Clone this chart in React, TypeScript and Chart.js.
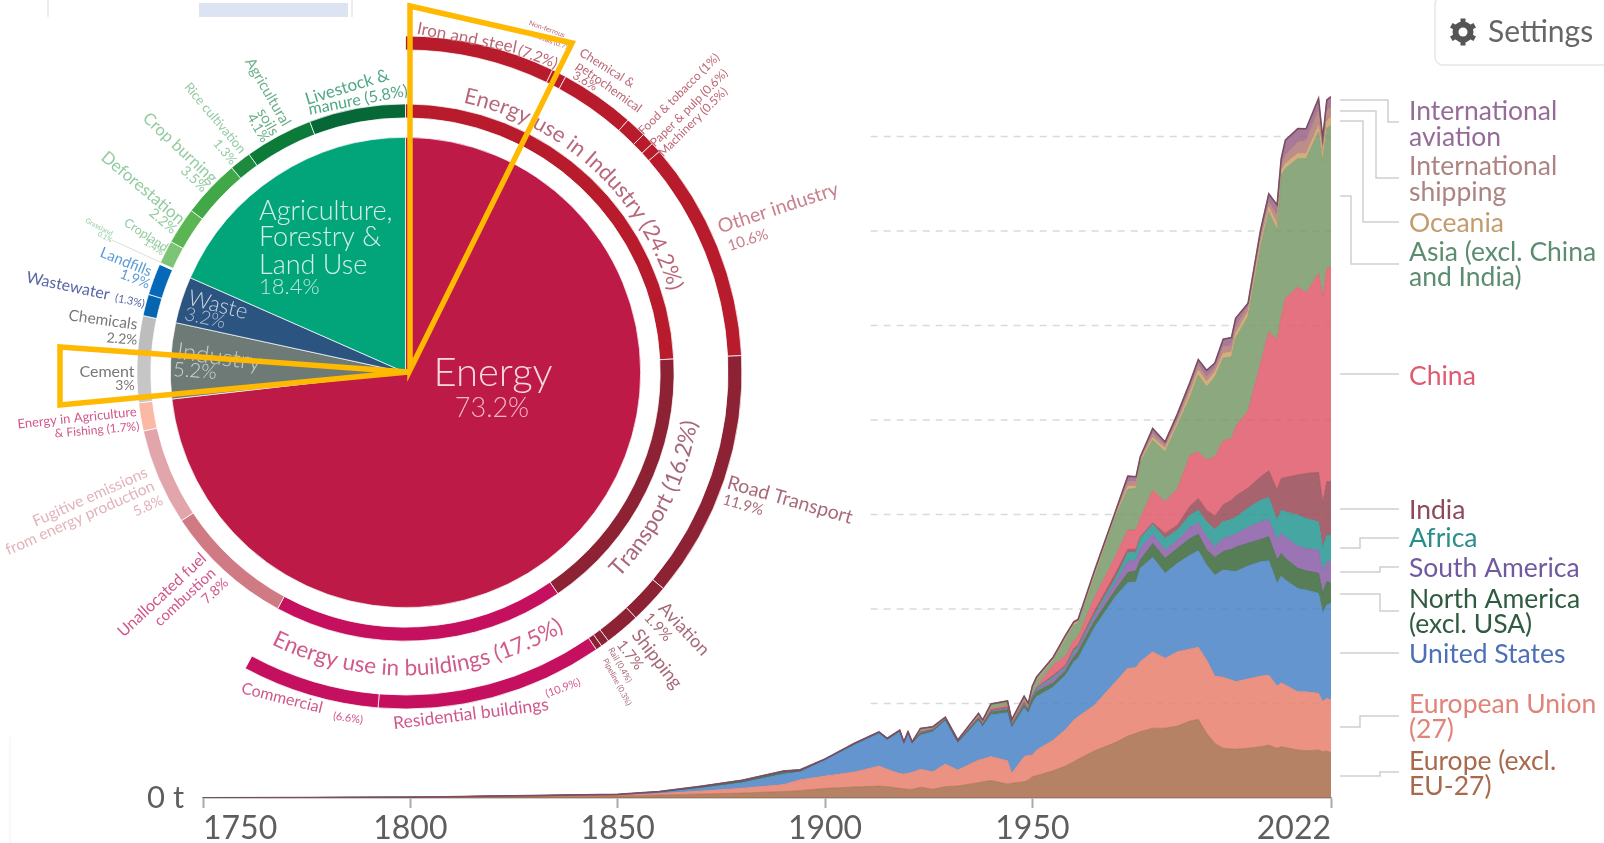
import React, { useEffect, useRef } from "react";
import { Chart, registerables } from "chart.js";

Chart.register(...registerables);

// ---------- Stacked area data: billions of tonnes of CO2 ----------
const years = [1750,1800,1850,1860,1870,1880,1890,1894,1900,1907,1913,1915,1918,1919,1920,1921,1923,1926,1929,1932,1937,1938,1940,1944,1945,1948,1949,1950,1951,1955,1958,1960,1961,1965,1970,1973,1975,1976,1979,1982,1985,1988,1990,1992,1994,1996,1998,1999,2002,2005,2007,2009,2010,2011,2014,2016,2019,2020,2021,2022];

const europeExclEU = [0.01,0.03,0.11,0.16,0.21,0.26,0.34,0.39,0.51,0.58,0.63,0.6,0.51,0.49,0.46,0.46,0.57,0.46,0.6,0.63,0.81,0.86,0.92,0.74,0.78,0.86,0.95,1.13,1.18,1.44,1.69,1.92,2.05,2.5,2.93,3.28,3.42,3.51,3.69,3.69,3.81,4.07,4.16,3.42,2.89,2.63,2.59,2.58,2.63,2.71,2.8,2.63,2.71,2.67,2.54,2.5,2.54,2.45,2.49,2.4];
const europeanUnion = [0,0.01,0.04,0.08,0.16,0.26,0.37,0.57,0.65,0.79,1.06,0.92,0.79,0.78,0.85,0.9,0.95,0.93,1.2,0.85,1.2,1.2,1.27,1.23,0.53,1.32,1.32,1.15,1.36,1.62,1.94,2.21,2.25,2.42,3.21,3.58,3.49,3.7,4.05,3.7,3.93,3.81,3.81,3.88,3.56,3.76,3.65,3.58,3.67,3.74,3.7,3.3,3.39,3.31,3.08,3.12,3,2.65,2.79,2.79];
const unitedStates = [0,0,0.02,0.05,0.15,0.29,0.56,0.42,0.85,1.43,1.73,1.55,2.2,1.62,2.12,1.53,1.81,2.12,2.29,1.43,2.08,1.71,2.21,2.54,2.4,2.58,2.21,2.75,2.82,2.8,2.87,3.08,3.09,4.11,4.51,4.53,4.53,4.94,4.99,4.5,4.68,4.97,5.11,5.03,5.34,5.68,5.77,5.82,5.98,6.05,6.05,5.43,5.64,5.55,5.47,5.38,5.29,4.68,4.94,5.12];
const northAmerica = [0,0,0.01,0.02,0.05,0.06,0.07,0.05,0.02,0.04,0.03,0.04,0.04,0.03,0.03,0.03,0.08,0.06,0.04,0.04,0.09,0.08,0.13,0.14,0.09,0.14,0.12,0.2,0.26,0.23,0.23,0.26,0.35,0.33,0.35,0.53,0.58,0.44,0.74,0.79,0.79,0.88,0.88,0.79,0.94,0.97,1.15,1.29,1.2,1.18,1.27,1.23,1.2,1.15,1.06,1.02,1.06,1.06,1.23,1.06];
const southAmerica = [0,0,0,0,0.01,0.01,0.01,0.01,0.01,0.01,0.01,0.01,0.01,0.01,0.01,0.01,0.02,0.02,0.01,0.01,0.02,0.02,0.03,0.04,0.03,0.04,0.03,0.05,0.09,0.23,0.13,0.18,0.13,0.23,0.39,0.58,0.57,0.62,0.49,0.44,0.44,0.61,0.6,0.7,0.56,0.71,0.7,0.7,0.85,0.93,0.92,1.06,1.09,1.11,1.18,1.18,1.23,1.14,1.06,1.14];
const africa = [0,0,0,0,0,0.01,0.01,0.01,0,0.01,0.01,0.01,0.01,0.01,0.01,0.01,0.02,0.02,0.01,0.01,0.02,0.02,0.03,0.04,0.03,0.04,0.03,0.05,0.09,0.08,0.08,0.14,0.11,0.14,0.23,0.48,0.44,0.53,0.53,0.62,0.53,0.62,0.67,0.79,0.92,0.88,0.88,0.88,1.01,1.15,1.16,1.06,1.2,1.35,1.64,1.59,1.5,1.24,1.41,1.41];
const india = [0,0,0,0.01,0.01,0.02,0.03,0.02,0.01,0.01,0.01,0.01,0.01,0.01,0.01,0.01,0.04,0.03,0.03,0.02,0.05,0.04,0.07,0.08,0.05,0.08,0.06,0.06,0.03,0.09,0.09,0.13,0.12,0.17,0.26,0.18,0.13,0.08,0.07,0.26,0.26,0.48,0.62,0.62,0.7,0.88,1.02,1.13,1.06,1.23,1.41,1.59,1.68,1.82,2.12,2.38,2.61,2.38,2.82,2.82];
const china = [0,0,0,0,0.01,0.01,0.01,0.01,0,0.01,0.01,0.01,0.01,0.01,0.01,0.01,0.04,0.03,0.02,0.02,0.05,0.04,0.07,0.08,0.05,0.08,0.06,0.06,0.05,0.53,0.48,0.44,0.42,0.74,0.88,1.02,1.02,0.97,1.73,1.67,1.94,2.7,2.47,2.65,3.14,3.4,3.26,3.67,4.09,6,7.35,7.94,8.55,9.47,9.96,9.55,10.53,10.93,11.29,11.34];
const asiaExclChinaIndia = [0,0,0,0.01,0.01,0.01,0.02,0.01,0.01,0.01,0.01,0.01,0.01,0.01,0.01,0.01,0.12,0.08,0.06,0.05,0.13,0.12,0.2,0.21,0.14,0.21,0.18,0.37,0.35,0.26,0.88,0.79,0.72,1.06,2.12,2.15,2.21,2.99,2.65,2.65,3.35,3.07,4.06,3.88,4.23,4.36,4.32,4.68,4.99,6.17,6.35,5.82,7.5,6.88,6.79,7.11,7.49,7.14,7.41,7.53];
const oceania = [0,0,0.01,0.01,0.01,0.01,0.01,0,0,0,0,0,0,0,0,0,0.02,0.01,0.01,0.01,0.02,0.02,0.03,0.03,0.02,0.03,0.03,0.06,0.04,0.05,0.07,0.06,0.07,0.12,0.09,0.17,0.12,0.09,0.14,0.18,0.17,0.26,0.26,0.26,0.26,0.26,0.26,0.26,0.26,0.26,0.26,0.35,0.26,0.26,0.26,0.26,0.35,0.44,0.35,0.44];
const internationalShipping = [0,0,0,0,0,0,0,0,0,0,0,0,0,0,0,0,0.01,0.01,0.01,0,0.01,0.01,0.02,0.01,0.01,0.01,0.02,0.04,0.05,0.05,0.08,0.06,0.07,0.12,0.09,0.23,0.23,0.09,0.21,0.17,0.18,0.26,0.26,0.26,0.23,0.35,0.35,0.35,0.26,0.26,0.26,0.44,0.26,0.44,0.61,0.7,0.79,0.44,0.62,0.53];
const internationalAviation = [0,0,0,0,0,0,0,0,0,0,0,0,0,0,0,0,0,0,0,0,0,0,0,0,0,0,0,0.01,0.08,0.07,0.08,0.06,0.07,0.11,0.08,0.3,0.26,0.08,0.26,0.17,0.26,0.26,0.3,0.35,0.24,0.39,0.41,0.44,0.18,0.35,0.44,0.53,0.35,0.79,0.71,0.62,0.62,0.35,0.53,0.53];

const areaSeries = [
  { name: "Europe (excl. EU-27)", values: europeExclEU, color: "168,108,74" },
  { name: "European Union (27)", values: europeanUnion, color: "232,127,108" },
  { name: "United States", values: unitedStates, color: "73,131,198" },
  { name: "North America (excl. USA)", values: northAmerica, color: "59,103,59" },
  { name: "South America", values: southAmerica, color: "138,92,167" },
  { name: "Africa", values: africa, color: "38,152,146" },
  { name: "India", values: india, color: "153,73,85" },
  { name: "China", values: china, color: "223,89,106" },
  { name: "Asia (excl. China and India)", values: asiaExclChinaIndia, color: "120,153,103" },
  { name: "Oceania", values: oceania, color: "207,159,102" },
  { name: "International shipping", values: internationalShipping, color: "176,122,118" },
  { name: "International aviation", values: internationalAviation, color: "153,98,134" },
];

const xTicks = [1750, 1800, 1850, 1900, 1950, 2022];
const gridValues = [5, 10, 15, 20, 25, 30, 35];
const gridStartYear = 1911;

// ---------- Nested sector shares (percent of emissions) ----------
const sectorCategories = ["Energy", "Industry", "Waste", "Agriculture, Forestry & Land Use"];
const sectorValues = [73.2, 5.2, 3.2, 18.4];
const sectorColors = ["#BD1A48", "#6E7A75", "#2C5480", "#02A57A"];

const middleCategories = ["Energy use in Industry", "Transport", "Energy use in buildings", "Unallocated fuel combustion", "Fugitive emissions", "Energy in Agriculture & Fishing", "Cement", "Chemicals", "Wastewater", "Landfills", "Grassland", "Cropland", "Deforestation", "Crop burning", "Rice cultivation", "Agricultural soils", "Livestock & manure"];
const middleValues = [24.2, 16.2, 17.5, 7.8, 5.8, 1.7, 3, 2.2, 1.3, 1.9, 0.1, 1.4, 2.2, 3.5, 1.3, 4.1, 5.8];
const middleColors = ["#B81C2C", "#8C2234", "#C4105E", "#D07A83", "#E3A5AC", "#FBB9A5", "#C6C6C6", "#BDBDBD", "#0565B0", "#0568B8", "#FFFFFF", "#7CC576", "#5AB552", "#40A846", "#1E8A3E", "#0C7A38", "#066836"];

const outerCategories = ["Iron and steel", "Non-ferrous metals", "Chemical & petrochemical", "Food & tobacco", "Paper & pulp", "Machinery", "Other industry", "Road Transport", "Aviation", "Shipping", "Rail", "Pipeline", "Residential buildings", "Commercial", "(no third-level split)"];
const outerValues = [7.2, 0.7, 3.6, 1, 0.6, 0.5, 10.6, 11.9, 1.9, 1.7, 0.4, 0.3, 10.9, 6.6, 42.1];
const outerColors = ["#B81C2C", "#B81C2C", "#B81C2C", "#B81C2C", "#B81C2C", "#B81C2C", "#B81C2C", "#8C2234", "#8C2234", "#8C2234", "#8C2234", "#8C2234", "#C4105E", "#C4105E", "rgba(0,0,0,0)"];

// ---------- Layout ----------
const PIE = { cx: 405.5, cy: 372.5, outer: 337, ring3In: 323, ring2Out: 269, ring2In: 255, pie: 235.5 };
const FONT = "Lato";

type Lbl = [string, number, number, number, number, string, number?];
const LG = "#4FA884", G2 = "#6DB08A", G3 = "#93CBA0", BL = "#5A9BD6", PU = "#5866A6", GY = "#777", RD = "#BC6573", RL = "#C9808D", MG = "#D2568C", PK = "#E2B3BB", MR = "#A86A78";
const ringLabels: Lbl[] = [
  ["Livestock &", 347, 87, -17, 17, LG],
  ["manure (5.8%)", 358, 100, -11, 16, LG],
  ["Agricultural", 268, 92, 60, 15, G2],
  ["soils", 268, 122, 60, 15, G2],
  ["4.1%", 258, 128, 60, 14, G2],
  ["Rice cultivation", 215, 118, 50, 13, G3],
  ["1.3%", 225, 152, 50, 13, G3],
  ["Crop burning", 180, 148, 43, 16.5, G3],
  ["3.5%", 194, 179, 43, 14, G3],
  ["Deforestation", 143, 188, 40, 17, G3],
  ["2.2%", 163, 221, 40, 14, G3],
  ["Cropland", 146, 235, 33, 12.5, G3],
  ["1.4%", 154, 247, 33, 10, G3],
  ["Grassland", 99, 227, 28, 7, G3],
  ["0.1%", 105, 237, 28, 7, G3],
  ["Landfills", 126, 262, 22, 15, BL],
  ["1.9%", 135, 279, 22, 14, BL],
  ["Wastewater", 68, 286, 12, 16, PU],
  ["(1.3%)", 130, 301, 12, 11, PU],
  ["Chemicals", 103, 320, 8, 15.5, GY],
  ["2.2%", 122, 339, 5, 14, GY],
  ["Cement", 107, 372, 0, 16, GY],
  ["3%", 125, 385, 0, 14, GY],
  ["Energy in Agriculture", 77, 418, -6, 13, MG],
  ["& Fishing (1.7%)", 97, 430, -5, 12, MG],
  ["Fugitive emissions", 90, 497, -24, 15.5, PK],
  ["from energy production", 80, 518, -24, 15.5, PK],
  ["5.8%", 148, 506, -24, 14, PK],
  ["Unallocated fuel", 162, 595, -43, 16, MG],
  ["combustion", 185, 597, -43, 15, MG],
  ["7.8%", 215, 591, -43, 14, MG],
  ["Commercial", 282, 698, 14, 16, MG],
  ["(6.6%)", 348, 718, 8, 11, MG],
  ["Residential buildings", 471, 714, -7, 17.5, MG],
  ["(10.9%)", 563, 688, -20, 11, MG],
  ["Pipeline (0.3%)", 617, 682, 62, 8, MR],
  ["Rail (0.4%)", 620, 665, 60, 8.5, MR],
  ["Shipping", 657, 659, 52, 18.5, MR],
  ["1.7%", 630, 655, 52, 15, MR],
  ["Aviation", 684, 629, 47, 18, MR],
  ["1.9%", 658, 627, 47, 15, MR],
  ["Road Transport", 790, 500, 16, 19.5, MR],
  ["11.9%", 743, 505, 16, 15, MR],
  ["Other industry", 778, 208, -18, 19.5, RL],
  ["10.6%", 748, 240, -18, 15, RL],
  ["Machinery (0.5%)", 693, 122, -45, 12, RD],
  ["Paper & pulp (0.6%)", 689, 108, -45, 12, RD],
  ["Food & tobacco (1%)", 679, 94, -45, 12, RD],
  ["Chemical &", 607, 68, 32, 12.5, RD],
  ["petrochemical", 609, 87, 36, 12.5, RD],
  ["3.6%", 585, 81, 30, 12, RD],
  ["Non-ferrous", 547, 29, 20, 7, RD],
  ["metals (0.7%)", 553, 42, 20, 7, RD],
  ["Iron and steel", 467, 38, 11, 17, RD],
  ["(7.2%)", 538, 57, 20, 15, RD],
];
const pieLabels: Lbl[] = [
  ["Energy", 493, 373, 0, 40, "#F5D9E0", 300],
  ["73.2%", 492, 408, 0, 27, "#F0B8C8", 300],
  ["Waste", 218, 305, 14, 22, "#CBD5E0", 300],
  ["3.2%", 205, 318, 12, 19, "#B5C3D3", 300],
  ["Industry", 219, 357, 8, 24, "#C5CEC9", 300],
  ["5.2%", 195, 371, 4, 20, "#D0D8D3", 300],
];
const afoluLines = ["Agriculture,", "Forestry &", "Land Use"];
const afoluLineY = [211, 237, 265];

const arcLabels = [
  { text: "Energy use in Industry (24.2%)", r: 276, mid: 42.4, dir: 1, size: 22, color: "#B8687A" },
  { text: "Transport (16.2%)", r: 296, mid: 117, dir: -1, size: 22.5, color: "#A8677A" },
  { text: "Energy use in buildings (17.5%)", r: 303, mid: 177.4, dir: -1, size: 22.5, color: "#D05A8C" },
];

type Leader = { lines: string[]; ys: number[]; color: string; y0: number; xm?: number; y1?: number };
const leaders: Leader[] = [
  { lines: ["International", "aviation"], ys: [111.5, 137], color: "#956C97", y0: 100, xm: 1388, y1: 122 },
  { lines: ["International", "shipping"], ys: [166, 192], color: "#AD8482", y0: 111, xm: 1376, y1: 178 },
  { lines: ["Oceania"], ys: [223], color: "#C49B6C", y0: 121, xm: 1363, y1: 222 },
  { lines: ["Asia (excl. China", "and India)"], ys: [252, 277], color: "#5D8C70", y0: 196, xm: 1351, y1: 264 },
  { lines: ["China"], ys: [376.5], color: "#DE5A70", y0: 374 },
  { lines: ["India"], ys: [510.5], color: "#8C4A5A", y0: 509 },
  { lines: ["Africa"], ys: [538.5], color: "#2A8F8B", y0: 548, xm: 1360, y1: 538 },
  { lines: ["South America"], ys: [568], color: "#70599E", y0: 572, xm: 1380, y1: 567 },
  { lines: ["North America", "(excl. USA)"], ys: [599, 624], color: "#2F5B40", y0: 594, xm: 1380, y1: 611 },
  { lines: ["United States"], ys: [654.5], color: "#4C70B5", y0: 653 },
  { lines: ["European Union", "(27)"], ys: [704, 729], color: "#E08379", y0: 727, xm: 1360, y1: 716 },
  { lines: ["Europe (excl.", "EU-27)"], ys: [761, 786], color: "#A8694C", y0: 776, xm: 1380, y1: 772 },
];

function drawLabel(ctx: CanvasRenderingContext2D, l: Lbl, align: CanvasTextAlign = "center") {
  const [text, x, y, rot, size, color, weight] = l;
  ctx.save();
  ctx.translate(x, y);
  ctx.rotate((rot * Math.PI) / 180);
  ctx.font = `${weight ?? 400} ${size}px ${FONT}`;
  ctx.fillStyle = color;
  ctx.textAlign = align;
  ctx.textBaseline = "middle";
  ctx.fillText(text, 0, 0);
  ctx.restore();
}

function drawArcLabel(ctx: CanvasRenderingContext2D, a: (typeof arcLabels)[number]) {
  ctx.save();
  ctx.font = `400 ${a.size}px ${FONT}`;
  ctx.fillStyle = a.color;
  ctx.textAlign = "center";
  ctx.textBaseline = "alphabetic";
  const total = ctx.measureText(a.text).width;
  let angle = (a.mid * Math.PI) / 180 - (a.dir * total) / a.r / 2;
  for (const ch of a.text) {
    const w = ctx.measureText(ch).width;
    angle += (a.dir * w) / a.r / 2;
    ctx.save();
    ctx.translate(PIE.cx + a.r * Math.sin(angle), PIE.cy - a.r * Math.cos(angle));
    ctx.rotate(a.dir > 0 ? angle : angle - Math.PI);
    ctx.fillText(ch, 0, 0);
    ctx.restore();
    angle += (a.dir * w) / a.r / 2;
  }
  ctx.restore();
}

function drawGear(ctx: CanvasRenderingContext2D, cx: number, cy: number) {
  ctx.save();
  ctx.strokeStyle = "#555";
  ctx.fillStyle = "#555";
  ctx.lineWidth = 5;
  for (let i = 0; i < 6; i++) {
    const a = (i * Math.PI) / 3 + Math.PI / 6;
    ctx.beginPath();
    ctx.moveTo(cx, cy);
    ctx.lineTo(cx + 13.5 * Math.cos(a), cy + 13.5 * Math.sin(a));
    ctx.stroke();
  }
  ctx.beginPath();
  ctx.arc(cx, cy, 10.5, 0, Math.PI * 2);
  ctx.fill();
  ctx.fillStyle = "#fff";
  ctx.beginPath();
  ctx.arc(cx, cy, 4.5, 0, Math.PI * 2);
  ctx.fill();
  ctx.restore();
}

const areaGridPlugin = {
  id: "areaGrid",
  beforeDatasetsDraw(chart: any) {
    const { ctx, scales, chartArea } = chart;
    ctx.save();
    ctx.strokeStyle = "#d9d9d9";
    ctx.lineWidth = 1.5;
    ctx.setLineDash([7, 6]);
    for (const v of gridValues) {
      const y = scales.y.getPixelForValue(v);
      ctx.beginPath();
      ctx.moveTo(scales.x.getPixelForValue(gridStartYear), y);
      ctx.lineTo(chartArea.right, y);
      ctx.stroke();
    }
    ctx.restore();
  },
};

const decorPlugin = {
  id: "decor",
  afterDraw(chart: any) {
    const ctx: CanvasRenderingContext2D = chart.ctx;
    ctx.save();
    ringLabels.forEach((l) => drawLabel(ctx, l));
    pieLabels.forEach((l) => drawLabel(ctx, l));
    afoluLines.forEach((t, i) => drawLabel(ctx, [t, 259, afoluLineY[i], 0, 27, "#D5EFE6", 300], "left"));
    drawLabel(ctx, ["18.4%", 259, 287, 0, 22, "#BFE6D8", 300], "left");
    arcLabels.forEach((a) => drawArcLabel(ctx, a));

    // grassland leader
    ctx.strokeStyle = "#d8e0d4";
    ctx.lineWidth = 1;
    ctx.beginPath();
    ctx.moveTo(112, 240);
    ctx.lineTo(162, 263);
    ctx.stroke();

    // series legend with elbow leaders
    ctx.lineWidth = 1.5;
    ctx.strokeStyle = "#cfcfcf";
    for (const l of leaders) {
      ctx.beginPath();
      ctx.moveTo(1340, l.y0);
      if (l.xm !== undefined && l.y1 !== undefined) {
        ctx.lineTo(l.xm, l.y0);
        ctx.lineTo(l.xm, l.y1);
        ctx.lineTo(1399, l.y1);
      } else {
        ctx.lineTo(1399, l.y0);
      }
      ctx.stroke();
      ctx.font = `400 26.5px ${FONT}`;
      ctx.fillStyle = l.color;
      ctx.textAlign = "left";
      ctx.textBaseline = "middle";
      l.lines.forEach((t, i) => ctx.fillText(t, 1409, l.ys[i]));
    }

    // settings button
    ctx.strokeStyle = "#e6e6e6";
    ctx.lineWidth = 1.5;
    ctx.beginPath();
    ctx.roundRect(1435, -4, 180, 69, 8);
    ctx.stroke();
    drawGear(ctx, 1463, 32);
    ctx.font = `400 30px ${FONT}`;
    ctx.fillStyle = "#666";
    ctx.fillText("Settings", 1488, 32);

    // cropped toolbar remnant
    ctx.strokeStyle = "#e8e8e8";
    ctx.beginPath();
    ctx.roundRect(48, -6, 304, 40, 6);
    ctx.stroke();
    ctx.fillStyle = "#DBE4F0";
    ctx.fillRect(199, 3, 149, 14);
    ctx.fillStyle = "#fff";
    ctx.fillRect(40, 17, 320, 20);

    // faint crop edge
    ctx.strokeStyle = "#f1f1f1";
    ctx.lineWidth = 1;
    ctx.beginPath();
    ctx.moveTo(10, 737);
    ctx.lineTo(10, 843);
    ctx.stroke();

    // orange highlight wedges
    ctx.strokeStyle = "#FFB900";
    ctx.lineWidth = 5.5;
    ctx.lineJoin = "miter";
    ctx.beginPath();
    ctx.moveTo(410, 6);
    ctx.lineTo(572, 43);
    ctx.lineTo(410, 370);
    ctx.closePath();
    ctx.stroke();
    ctx.beginPath();
    ctx.moveTo(60, 347);
    ctx.lineTo(60, 405);
    ctx.lineTo(408, 372);
    ctx.closePath();
    ctx.stroke();
    ctx.restore();
  },
};

export default function App() {
  const areaRef = useRef<HTMLCanvasElement>(null);
  const pieRef = useRef<HTMLCanvasElement>(null);

  useEffect(() => {
    const totals = years.map((_, k) => areaSeries.reduce((sum, s) => sum + s.values[k], 0));
    const area = new Chart(areaRef.current!, {
      type: "line",
      data: {
        datasets: [
          ...areaSeries.map((s, i) => ({
            label: s.name,
            data: years.map((x, k) => ({ x, y: s.values[k] })),
            borderColor: `rgb(${s.color})`,
            borderWidth: 0.6,
            backgroundColor: `rgba(${s.color},0.85)`,
            fill: i === 0 ? "origin" : "-1",
            pointRadius: 0,
            tension: 0,
          })),
          {
            label: "World total outline",
            stack: "outline",
            order: -1,
            data: years.map((x, k) => ({ x, y: totals[k] })),
            borderColor: "rgb(122,78,98)",
            borderWidth: 1.6,
            fill: false,
            pointRadius: 0,
            tension: 0,
          },
        ],
      },
      options: {
        responsive: false,
        animation: false,
        events: [],
        layout: { padding: { left: 0, right: 273, top: 89.25, bottom: 0 } },
        plugins: { legend: { display: false }, tooltip: { enabled: false } },
        scales: {
          x: {
            type: "linear",
            min: 1750,
            max: 2022,
            afterBuildTicks: (axis: any) => {
              axis.ticks = xTicks.map((value) => ({ value }));
            },
            afterFit: (axis: any) => {
              axis.height = 45;
            },
            border: { display: true, color: "#999", width: 1.5 },
            grid: { drawOnChartArea: false, drawTicks: true, tickLength: 10, tickColor: "#aaa", tickWidth: 2 },
            ticks: {
              autoSkip: false,
              maxRotation: 0,
              align: "inner",
              padding: 1,
              color: "#5e5e5e",
              font: { family: FONT, size: 32 },
              callback: (v: any) => String(v),
            },
          },
          y: {
            stacked: true,
            min: 0,
            max: 37.5,
            afterBuildTicks: (axis: any) => {
              axis.ticks = [{ value: 0 }];
            },
            afterFit: (axis: any) => {
              axis.width = 203;
            },
            border: { display: false },
            grid: { display: false },
            ticks: {
              color: "#5e5e5e",
              padding: 11,
              font: { family: FONT, size: 31 },
              callback: () => "0 t",
            },
          },
        },
      },
      plugins: [areaGridPlugin],
    } as any);

    const thick = (outer: number, inner: number) => outer - inner;
    const pie = new Chart(pieRef.current!, {
      type: "doughnut",
      data: {
        labels: outerCategories,
        datasets: [
          {
            label: "Third level",
            data: outerValues,
            backgroundColor: outerColors,
            borderColor: "rgba(255,255,255,0.75)",
            borderWidth: outerValues.map((_, i) => (i === outerValues.length - 1 ? 0 : 1)),
            weight: thick(PIE.outer, PIE.ring3In),
          },
          { label: "spacer", data: [1], backgroundColor: "rgba(0,0,0,0)", borderWidth: 0, weight: thick(PIE.ring3In, PIE.ring2Out) },
          {
            label: "Second level: " + middleCategories.length,
            data: middleValues,
            backgroundColor: middleColors,
            borderColor: "rgba(255,255,255,0.75)",
            borderWidth: 1,
            weight: thick(PIE.ring2Out, PIE.ring2In),
          },
          { label: "spacer", data: [1], backgroundColor: "rgba(0,0,0,0)", borderWidth: 0, weight: thick(PIE.ring2In, PIE.pie) },
          {
            label: "Sectors: " + sectorCategories.join(", "),
            data: sectorValues,
            backgroundColor: sectorColors,
            borderColor: "rgba(255,255,255,0.7)",
            borderWidth: 1,
            weight: PIE.pie,
          },
        ],
      },
      options: {
        responsive: false,
        animation: false,
        events: [],
        cutout: 0,
        layout: {
          padding: {
            left: PIE.cx - PIE.outer,
            right: 1604 - PIE.cx - PIE.outer,
            top: PIE.cy - PIE.outer,
            bottom: 843 - PIE.cy - PIE.outer,
          },
        },
        plugins: { legend: { display: false }, tooltip: { enabled: false } },
      },
      plugins: [decorPlugin],
    } as any);

    return () => {
      area.destroy();
      pie.destroy();
    };
  }, []);

  const layer: React.CSSProperties = { position: "absolute", left: 0, top: 0, width: 1604, height: 843, display: "block" };
  return (
    <div style={{ position: "fixed", left: 0, top: 0, width: 1604, height: 843, background: "#fff", overflow: "hidden" }}>
      <canvas ref={areaRef} width={1604} height={843} style={layer} />
      <canvas ref={pieRef} width={1604} height={843} style={layer} />
    </div>
  );
}
